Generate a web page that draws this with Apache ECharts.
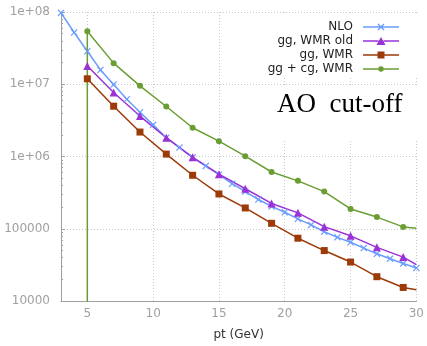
<!DOCTYPE html>
<html><head><meta charset="utf-8">
<script src="https://cdn.jsdelivr.net/npm/echarts@6/dist/echarts.min.js"></script>
<style>html,body{margin:0;padding:0;background:#fff}#c{width:427px;height:346px}</style>
</head><body><div id="c"></div>
<script>
// ---- data ----
const xTickValues = [5, 10, 15, 20, 25, 30];
const yTickValues = [10000, 100000, 1000000, 10000000, 100000000];
const seriesNames = ['NLO', 'gg, WMR old', 'gg, WMR', 'gg + cg, WMR'];

const nloX = [3,4,5,6,7,8,9,10,11,12,13,14,15,16,17,18,19,20,21,22,23,24,25,26,27,28,29,30];
const nloY = [9.7e7,5.2e7,2.86e7,1.58e7,9.9e6,6.2e6,4.1e6,2.74e6,1.82e6,1.33e6,9.75e5,7.4e5,5.6e5,4.2e5,3.27e5,2.54e5,2.04e5,1.69e5,1.37e5,1.13e5,9.1e4,7.6e4,6.5e4,5.4e4,4.5e4,3.85e4,3.3e4,2.87e4];

const wmrX = [5,7,9,11,13,15,17,19,21,23,25,27,29,30];
const wmrOldY = [1.79e7,7.7e6,3.63e6,1.82e6,9.75e5,5.7e5,3.58e5,2.24e5,1.66e5,1.07e5,7.98e4,5.53e4,4.05e4,3.19e4];
const wmrY = [1.19e7,4.97e6,2.18e6,1.08e6,5.5e5,3.03e5,1.94e5,1.19e5,7.4e4,4.99e4,3.46e4,2.17e4,1.54e4,1.43e4];

const ggcgX = [5,5,7,9,11,13,15,17,19,21,23,25,27,29,30];
const ggcgY = [1,5.4e7,1.96e7,9.5e6,4.92e6,2.5e6,1.63e6,1.01e6,6.1e5,4.6e5,3.27e5,1.88e5,1.45e5,1.06e5,1.02e5];

const colors = ['#6a9cff', '#9a32d6', '#9c3a08', '#6a9e32'];

// minor tick values (2..9 per decade)
const minorTicks = [];
for (let d = 0; d < yTickValues.length - 1; d++) {
  for (let m = 2; m <= 9; m++) minorTicks.push(yTickValues[d] * m);
}

function pairs(xs, ys) { return xs.map((x, i) => [x, ys[i]]); }

const crossPath = 'path://M0,1.2L1.2,0L5,3.8L8.8,0L10,1.2L6.2,5L10,8.8L8.8,10L5,6.2L1.2,10L0,8.8L3.8,5Z';

// legend icons: line with the marker in the middle (36 wide)
const legendIcons = [
  'path://M0,3.25H17.5V4.75H0Z M18.5,3.25H36V4.75H18.5Z M14.5,1.4L15.4,0.5L18,3.1L20.6,0.5L21.5,1.4L18.9,4L21.5,6.6L20.6,7.5L18,4.9L15.4,7.5L14.5,6.6L17.1,4Z',
  'path://M0,3.25H15.5V4.75H0Z M20.5,3.25H36V4.75H20.5Z M18,0L22.5,8L13.5,8Z',
  'path://M0,3.25H15H15V4.75H0Z M21,3.25H36V4.75H21Z M14.5,0.5H21.5V7.5H14.5Z',
  'path://M0,3.25H15.5V4.75H0Z M20.5,3.25H36V4.75H20.5Z M15.25,4A2.75,2.75 0 1 1 20.75,4A2.75,2.75 0 1 1 15.25,4Z'
];

const chart = echarts.init(document.getElementById('c'), null, {renderer: 'canvas'});

function hideLast(len, size) {
  return function (v, p) { return p.dataIndex === len - 1 ? 0 : size; };
}

const option = {
  animation: false,
  backgroundColor: '#fff',
  grid: {left: 61, right: 7, top: 12, bottom: 40, containLabel: false},
  xAxis: {
    type: 'value', min: 3, max: 30,
    name: 'pt (GeV)', nameLocation: 'middle', nameGap: 28,
    nameTextStyle: {color: '#333', fontSize: 12, fontFamily: 'DejaVu Sans'},
    axisLine: {show: true, lineStyle: {color: '#a0a0a0', width: 1}},
    axisTick: {show: false, customValues: xTickValues},
    axisLabel: {customValues: xTickValues, color: '#a0a0a0', fontSize: 12, fontFamily: 'DejaVu Sans', margin: 7},
    splitLine: {show: true, lineStyle: {color: '#c8c8c8', type: [1, 2], width: 1}}
  },
  yAxis: [{
    type: 'log', logBase: 10, min: 10000, max: 100000000,
    axisLine: {show: true, lineStyle: {color: '#a0a0a0', width: 1}},
    axisTick: {show: true, inside: true, length: 4, lineStyle: {color: '#a0a0a0'}},
    axisLabel: {color: '#a0a0a0', fontSize: 12, fontFamily: 'DejaVu Sans', margin: 11,
      formatter: function (v) {
        const e = Math.round(Math.log10(v));
        return e >= 6 ? '1e+' + (e < 10 ? '0' + e : e) : String(Math.round(v));
      }},
    splitLine: {show: true, lineStyle: {color: '#c8c8c8', type: [1, 2], width: 1}}
  }, {
    type: 'log', logBase: 10, min: 10000, max: 100000000, position: 'left',
    axisLine: {show: false},
    axisTick: {show: true, inside: true, length: 2, customValues: minorTicks, lineStyle: {color: '#a0a0a0'}},
    axisLabel: {show: false},
    splitLine: {show: false}
  }],
  legend: {
    orient: 'vertical', right: 23, top: 15, align: 'right',
    itemWidth: 36, itemHeight: 8, itemGap: 0, symbolKeepAspect: true,
    itemStyle: {borderWidth: 0},
    textStyle: {color: '#222', fontSize: 12, fontFamily: 'DejaVu Sans', lineHeight: 14, padding: [0, 5, 0, 0]},
    data: seriesNames.map((n, i) => ({name: n, icon: legendIcons[i]}))
  },
  graphic: [
    {type: 'rect', z: 1, shape: {x: 268, y: 14, width: 159, height: 64}, style: {fill: '#fff'}},
    {type: 'rect', z: 1, shape: {x: 268, y: 87, width: 159, height: 52}, style: {fill: '#fff'}},
    {type: 'text', z: 5, left: 277, top: 91,
      style: {text: 'AO  cut-off', fill: '#000', fontSize: 27, fontFamily: 'Liberation Serif'}}
  ],
  series: [
    {name: seriesNames[0], type: 'line', data: pairs(nloX, nloY), color: colors[0],
      symbol: crossPath, symbolSize: 7, lineStyle: {width: 1.5}, z: 3, clip: true},
    {name: seriesNames[1], type: 'line', data: pairs(wmrX, wmrOldY), color: colors[1],
      symbol: 'triangle', symbolSize: hideLast(wmrX.length, 8), lineStyle: {width: 1.5}, z: 3, clip: true},
    {name: seriesNames[2], type: 'line', data: pairs(wmrX, wmrY), color: colors[2],
      symbol: 'rect', symbolSize: hideLast(wmrX.length, 7), lineStyle: {width: 1.5}, z: 3, clip: true},
    {name: seriesNames[3], type: 'line', data: pairs(ggcgX, ggcgY), color: colors[3],
      symbol: 'circle', symbolSize: function (v, p) { return (p.dataIndex === 0 || p.dataIndex === ggcgX.length - 1) ? 0 : 6; },
      lineStyle: {width: 1.5}, z: 3, clip: true}
  ]
};
chart.setOption(option);
</script>
</body></html>
